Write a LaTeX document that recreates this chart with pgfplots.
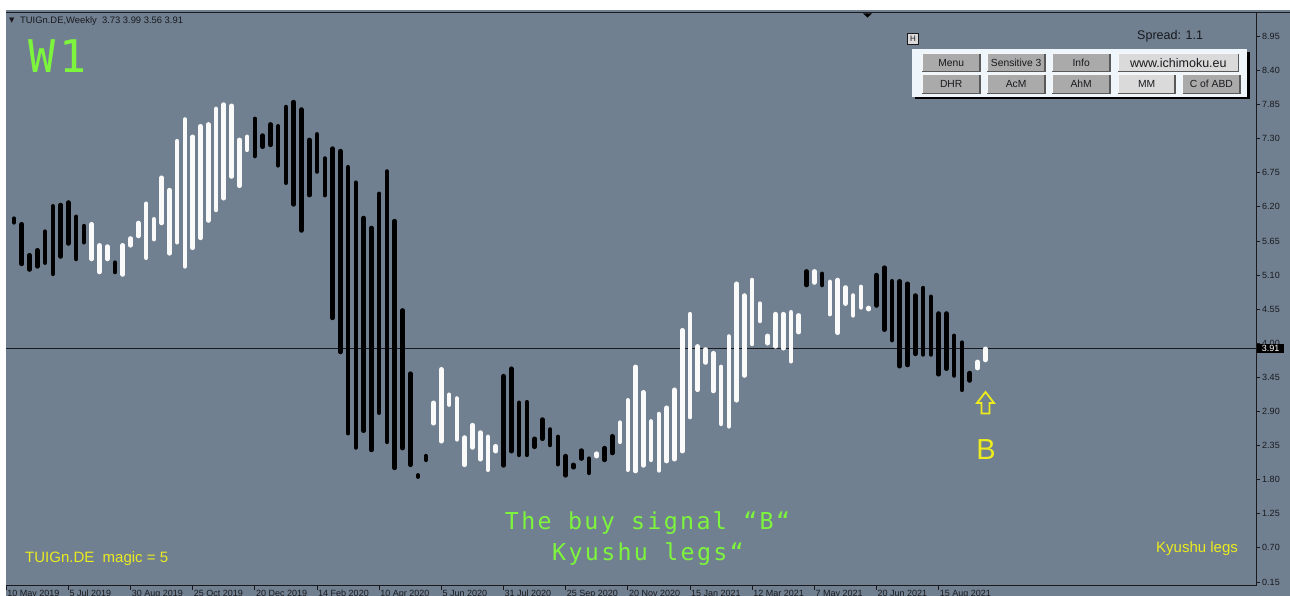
\documentclass[border=0pt]{standalone}
\usepackage{pgfplots}
\pgfplotsset{compat=1.18}
\usepackage{pgfplotstable}
\usepackage{fontspec}
\setmainfont{Liberation Sans}
\newfontfamily\symfont{DejaVu Sans}
\newfontfamily\techfont[LetterSpace=10]{DejaVu Sans Mono}

\definecolor{bg}{RGB}{112,128,144}
\definecolor{grn}{RGB}{125,245,60}
\definecolor{ylw}{RGB}{235,235,30}
\definecolor{btn}{RGB}{170,170,170}
\definecolor{btnl}{RGB}{218,218,218}
\definecolor{pnl}{RGB}{238,246,252}
\definecolor{wbar}{RGB}{250,250,250}
\definecolor{ink}{RGB}{25,25,30}

% weekly legs: bar index, lower end, upper end
\pgfplotstableread{
i lo hi
0 5.95 6.01
1 5.28 5.92
2 5.19 5.42
3 5.24 5.50
4 5.30 5.80
5 5.12 6.21
6 5.40 6.23
7 5.61 6.27
8 5.36 6.04
9 5.63 5.89
13 5.15 5.30
31 7.02 7.62
32 7.17 7.35
33 7.20 7.53
34 6.87 7.50
35 6.59 7.81
36 6.24 7.89
37 5.82 7.77
38 6.39 7.28
39 6.77 7.37
40 6.39 6.98
41 4.41 7.14
42 3.86 7.10
43 2.55 6.84
44 2.32 6.59
45 2.59 6.02
46 2.28 5.86
47 2.88 6.41
48 2.41 6.77
49 1.99 5.97
50 2.31 4.53
51 2.04 3.51
52 1.85 1.87
53 2.12 2.18
63 2.03 3.47
64 2.26 3.59
65 2.20 3.04
66 2.20 3.05
67 2.33 2.46
68 2.46 2.77
69 2.36 2.61
70 2.05 2.49
71 1.87 2.18
72 2.00 2.04
73 2.14 2.27
74 1.91 2.14
76 2.12 2.31
77 2.23 2.50
102 4.94 5.16
104 4.94 5.12
111 4.61 5.10
112 4.22 5.22
113 4.05 5.00
114 3.63 5.00
115 3.65 4.96
116 3.83 4.77
117 3.82 4.89
118 3.82 4.75
119 3.50 4.48
120 3.59 4.48
121 3.48 4.12
122 3.25 4.01
123 3.40 3.52
}\blackbars

\pgfplotstableread{
i lo hi
10 5.36 5.92
11 5.15 5.58
12 5.36 5.56
14 5.11 5.58
15 5.58 5.69
16 5.73 5.94
17 5.38 6.25
18 5.68 6.00
19 5.94 6.67
20 5.45 6.47
21 5.63 7.26
22 5.24 7.61
23 5.54 7.33
24 5.70 7.50
25 5.98 7.53
26 6.15 7.78
27 6.34 7.85
28 6.69 7.83
29 6.54 7.28
30 7.12 7.33
54 2.71 3.04
55 2.42 3.58
56 3.01 3.17
57 2.45 3.11
58 2.04 2.48
59 2.32 2.68
60 2.13 2.56
61 1.96 2.49
62 2.26 2.34
75 2.18 2.22
78 2.41 2.72
79 1.96 3.08
80 1.94 3.62
81 2.03 3.21
82 2.12 2.74
83 1.95 2.86
84 2.10 2.96
85 2.13 3.25
86 2.26 4.21
87 2.81 4.47
88 3.25 3.95
89 3.69 3.90
90 3.23 3.84
91 2.70 3.62
92 2.66 4.11
93 3.08 4.96
94 3.48 4.77
95 3.99 5.02
96 4.36 4.64
97 4.00 4.12
98 3.95 4.47
99 3.92 4.47
100 3.71 4.50
101 4.18 4.45
103 4.98 5.16
105 4.47 4.99
106 4.17 5.02
107 4.64 4.90
108 4.45 4.77
109 4.58 4.91
110 4.55 4.57
124 3.60 3.70
125 3.73 3.91
}\whitebars

\begin{document}
\begin{tikzpicture}
\begin{scope}[x=1pt,y=1pt]
\fill[white] (0,0) rectangle (1290,596);
\fill[bg] (6,0) rectangle (1290,586);
\end{scope}

\begin{axis}[
  at={(6pt,10pt)}, anchor=south west,
  scale only axis, width=1250pt, height=573.5pt,
  xmin=-1.03, xmax=159.85, ymin=0.0855, ymax=9.335,
  axis x line*=bottom, axis y line*=right,
  axis line style={-, draw=ink, line width=1pt},
  tick align=outside, major tick length=4pt,
  tick style={ink, line width=0.8pt},
  xtick={-1,7,...,119},
  xticklabels={10 May 2019,5 Jul 2019,30 Aug 2019,25 Oct 2019,20 Dec 2019,14 Feb 2020,10 Apr 2020,5 Jun 2020,31 Jul 2020,25 Sep 2020,20 Nov 2020,15 Jan 2021,12 Mar 2021,7 May 2021,20 Jun 2021,15 Aug 2021},
  xticklabel style={anchor=north west, inner sep=0pt, xshift=1pt, font=\fontsize{9}{10}\selectfont, text=ink},
  ytick={0.15,0.7,1.25,1.8,2.35,2.9,3.45,4,4.55,5.1,5.65,6.2,6.75,7.3,7.85,8.4,8.95},
  yticklabel style={anchor=west, inner sep=0pt, xshift=2pt, font=\fontsize{9}{10}\selectfont, text=ink,
    /pgf/number format/.cd, fixed, fixed zerofill, precision=2, assume math mode=true},
  clip=false,
]
\addplot[line width=1pt, color=ink, forget plot] coordinates {(-1.03,3.91) (159.85,3.91)};
\addplot[draw=none, mark=none,
  error bars/.cd, y dir=both, y explicit, error mark=none,
  error bar style={draw=black, line width=4.6pt, line cap=round}]
  table[x=i, y expr={(\thisrow{lo}+\thisrow{hi})/2}, y error expr={(\thisrow{hi}-\thisrow{lo})/2}] {\blackbars};
\addplot[draw=none, mark=none,
  error bars/.cd, y dir=both, y explicit, error mark=none,
  error bar style={draw=wbar, line width=4.6pt, line cap=round}]
  table[x=i, y expr={(\thisrow{lo}+\thisrow{hi})/2}, y error expr={(\thisrow{hi}-\thisrow{lo})/2}] {\whitebars};
\end{axis}

\begin{scope}[x=1pt,y=1pt]
% top border and shift marker
\draw[ink, line width=1.2pt] (6,583.5) -- (1290,583.5);
\fill[black] (863,582.7) -- (872,582.7) -- (867.5,578.3) -- cycle;
% header
\node[anchor=west, inner sep=0pt, text=ink] at (9,575) {\symfont\fontsize{7}{8}\selectfont ▼};
\node[anchor=west, inner sep=0pt, text=ink] at (20,575) {\fontsize{9.4}{10}\selectfont TUIGn.DE,Weekly\ \ 3.73 3.99 3.56 3.91};
% W1
\node[anchor=center, inner sep=0pt, text=grn] at (57.5,539.5) {\techfont\fontsize{45}{46}\selectfont W1};
% price label
\fill[black] (1257,242.7) rectangle (1284,252.3);
\node[anchor=center, inner sep=0pt, text=white] at (1270.5,247.5) {\fontsize{9}{10}\selectfont 3.91};
% panel
\node[anchor=west, inner sep=0pt, text=ink] at (1137,560) {\fontsize{12.5}{13}\selectfont Spread: 1.1};
\filldraw[fill=btnl, draw=ink, line width=0.6pt] (907.7,551.7) rectangle (918.3,562.7);
\node[inner sep=0pt, text=ink] at (913,557.2) {\fontsize{8}{9}\selectfont H};
\fill[black] (915,496.5) rectangle (1249.5,544);
\fill[pnl] (912.3,499.3) rectangle (1247.3,546.7);
\foreach \xa/\xb/\ya/\yb/\col/\txt/\fs in {
  922.3/980/524.3/542/btn/Menu/10.3,
  987.3/1045/524.3/542/btn/Sensitive 3/10.3,
  1052.3/1110/524.3/542/btn/Info/10.3,
  1118.3/1238.3/524.3/542/btnl/www.ichimoku.eu/12.5,
  922.3/980/502.7/521/btn/DHR/10.3,
  987.3/1045/502.7/521/btn/AcM/10.3,
  1052.3/1110/502.7/521/btn/AhM/10.3,
  1118.3/1175/502.7/521/btnl/MM/10.3,
  1182.7/1240/502.7/521/btn/C of ABD/10.3}{
  \fill[\col] (\xa,\ya) rectangle (\xb,\yb);
  \draw[white!90!btn, line width=1pt] (\xa,\ya) -- (\xa,\yb) -- (\xb,\yb);
  \draw[black!65, line width=1.2pt] (\xa,\ya) -- (\xb,\ya) -- (\xb,\yb);
  \node[inner sep=0pt, text=ink] at ({(\xa+\xb)/2},{(\ya+\yb)/2}) {\fontsize{\fs}{\fs}\selectfont \txt};
}
% signal annotations
\draw[ylw, line width=1.8pt, line join=miter] (985.5,204) -- (994,193) -- (989.5,193) -- (989.5,182.5) -- (981.5,182.5) -- (981.5,193) -- (977,193) -- cycle;
\node[anchor=base, inner sep=0pt, text=ylw] at (986,136) {\fontsize{29}{30}\selectfont B};
\node[anchor=base west, inner sep=0pt, text=ylw] at (25,33.3) {\fontsize{15}{16}\selectfont TUIGn.DE\ \ magic = 5};
\node[anchor=base west, inner sep=0pt, text=ylw] at (1156,43.3) {\fontsize{15}{16}\selectfont Kyushu legs};
\node[anchor=base, inner sep=0pt, text=grn] at (647.5,66.7) {\techfont\fontsize{23.3}{24}\selectfont The buy signal “B“};
\node[anchor=base, inner sep=0pt, text=grn] at (648,35) {\techfont\fontsize{23.3}{24}\selectfont Kyushu legs“};
\end{scope}
\pgfresetboundingbox
\path[use as bounding box] (0,0) rectangle (1290pt,596pt);
\end{tikzpicture}
\end{document}
